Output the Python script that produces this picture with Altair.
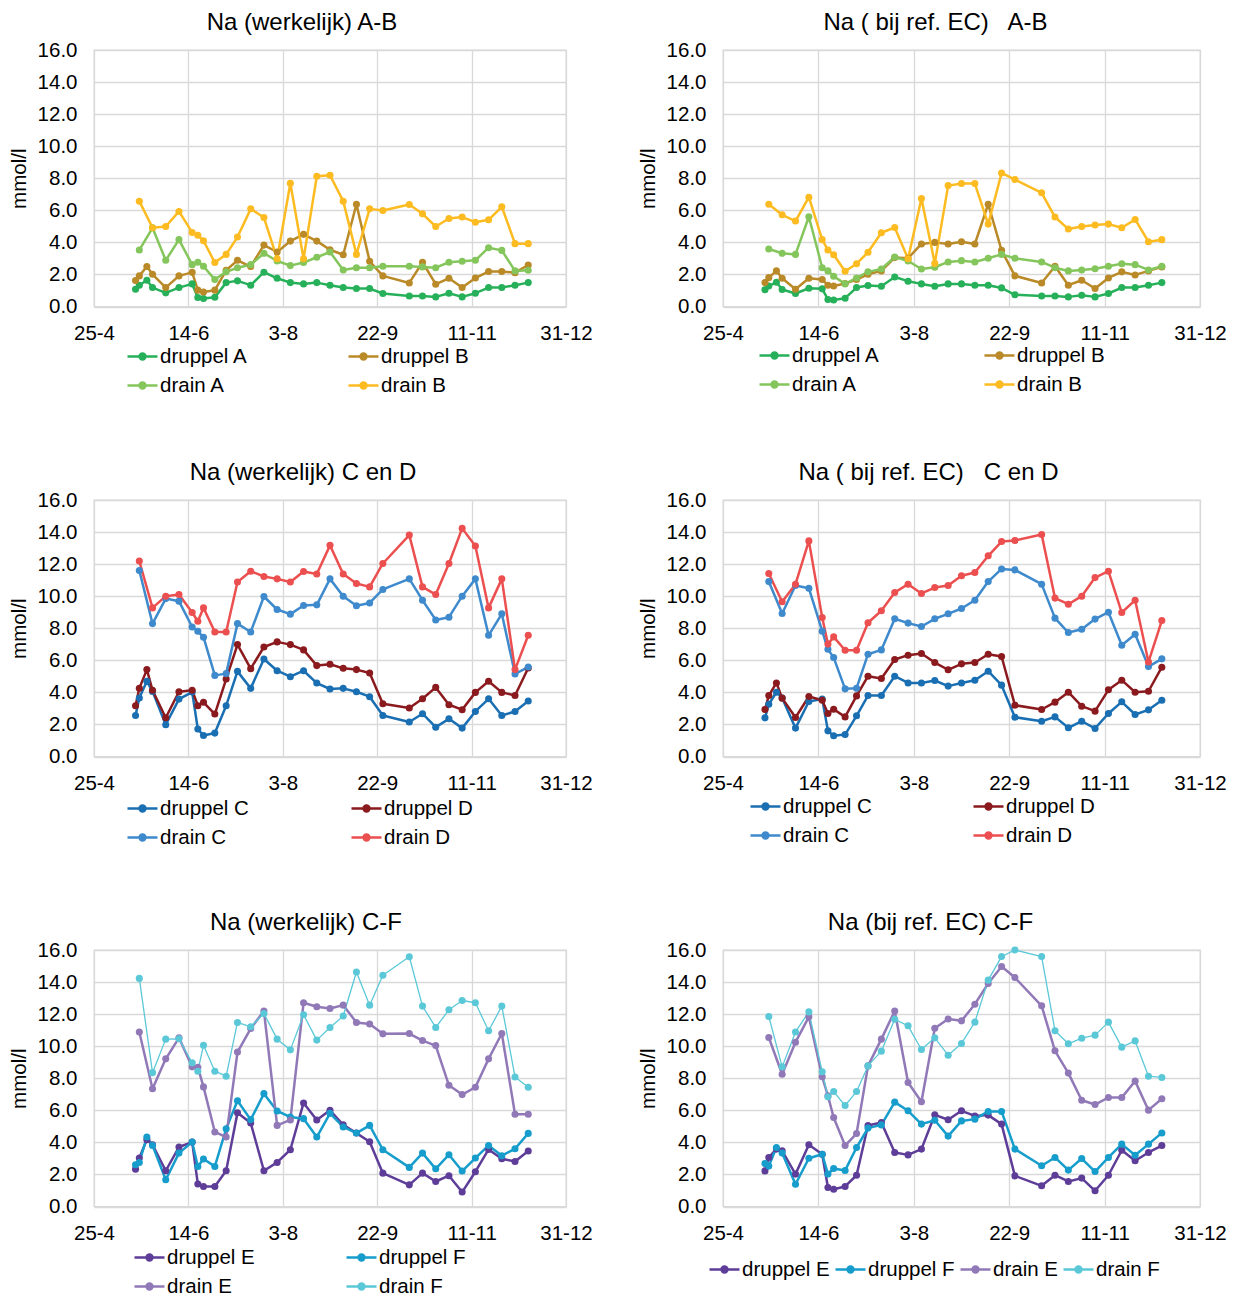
import altair as alt
import pandas as pd

FONT = "Liberation Sans"

# sampling dates (druppel = drip water, drain = drainage water)
DRUPPEL_DATES = ["2014-05-17", "2014-05-19", "2014-05-23", "2014-05-26", "2014-06-02", "2014-06-09",
                 "2014-06-16", "2014-06-19", "2014-06-22", "2014-06-28", "2014-07-04", "2014-07-10",
                 "2014-07-17", "2014-07-24", "2014-07-31", "2014-08-07", "2014-08-14", "2014-08-21",
                 "2014-08-28", "2014-09-04", "2014-09-11", "2014-09-18", "2014-09-25", "2014-10-09",
                 "2014-10-16", "2014-10-23", "2014-10-30", "2014-11-06", "2014-11-13", "2014-11-20",
                 "2014-11-27", "2014-12-04", "2014-12-11"]
DRAIN_DATES = ["2014-05-19", "2014-05-26", "2014-06-02", "2014-06-09",
               "2014-06-16", "2014-06-19", "2014-06-22", "2014-06-28", "2014-07-04", "2014-07-10",
               "2014-07-17", "2014-07-24", "2014-07-31", "2014-08-07", "2014-08-14", "2014-08-21",
               "2014-08-28", "2014-09-04", "2014-09-11", "2014-09-18", "2014-09-25", "2014-10-09",
               "2014-10-16", "2014-10-23", "2014-10-30", "2014-11-06", "2014-11-13", "2014-11-20",
               "2014-11-27", "2014-12-04", "2014-12-11"]

X_TICKS = ["2014-04-25", "2014-06-14", "2014-08-03", "2014-09-22", "2014-11-11", "2014-12-31"]
Y_TICKS = [0, 2, 4, 6, 8, 10, 12, 14, 16]

# Panel 1: Na (werkelijk) A-B
W_AB_DRUPPEL_A = [1.08, 1.33, 1.64, 1.18, 0.85, 1.18, 1.41, 0.56, 0.50, 0.58, 1.49, 1.60, 1.33, 2.14, 1.76, 1.49, 1.41,
                  1.49, 1.33, 1.18, 1.12, 1.12, 0.81, 0.66, 0.66, 0.60, 0.83, 0.60, 0.83, 1.18, 1.18, 1.33, 1.49]
W_AB_DRUPPEL_B = [1.62, 1.91, 2.49, 2.01, 1.18, 1.91, 2.13, 1.02, 0.91, 1.02, 2.26, 2.88, 2.49, 3.83, 3.40, 4.08, 4.50,
                  4.08, 3.54, 3.23, 6.38, 2.82, 1.91, 1.47, 2.76, 1.39, 1.76, 1.18, 1.78, 2.18, 2.18, 2.11, 2.59]
W_AB_DRAIN_A = [3.52, 4.91, 2.88, 4.17, 2.61, 2.76, 2.51, 1.68, 2.16, 2.42, 2.61, 3.32, 2.84, 2.55, 2.74, 3.07, 3.40,
                2.28, 2.42, 2.42, 2.51, 2.51, 2.47, 2.42, 2.76, 2.82, 2.88, 3.67, 3.50, 2.22, 2.26]
W_AB_DRAIN_B = [6.57, 4.91, 4.99, 5.93, 4.62, 4.44, 4.10, 2.74, 3.25, 4.33, 6.09, 5.55, 2.98, 7.69, 2.98, 8.12, 8.19,
                6.57, 3.25, 6.09, 5.99, 6.36, 5.78, 4.99, 5.49, 5.58, 5.26, 5.41, 6.22, 3.92, 3.92]

# Panel 2: Na (bij ref. EC) A-B
R_AB_DRUPPEL_A = [1.04, 1.28, 1.51, 1.06, 0.81, 1.14, 1.10, 0.44, 0.41, 0.52, 1.18, 1.31, 1.26, 1.84, 1.58, 1.41, 1.26,
                  1.41, 1.41, 1.33, 1.33, 1.16, 0.73, 0.66, 0.66, 0.60, 0.70, 0.60, 0.81, 1.18, 1.18, 1.33, 1.49]
R_AB_DRUPPEL_B = [1.49, 1.80, 2.22, 1.76, 1.08, 1.76, 1.68, 1.33, 1.28, 1.43, 1.68, 2.01, 2.22, 3.05, 3.01, 3.90, 4.00,
                  3.90, 4.04, 3.90, 6.38, 3.50, 1.91, 1.47, 2.51, 1.33, 1.64, 1.12, 1.78, 2.16, 1.97, 2.22, 2.47]
R_AB_DRAIN_A = [3.59, 3.32, 3.25, 5.60, 2.42, 2.22, 1.89, 1.41, 1.78, 2.16, 2.34, 3.09, 2.84, 2.34, 2.45, 2.78, 2.86,
                2.78, 3.01, 3.25, 3.01, 2.78, 2.42, 2.22, 2.28, 2.36, 2.51, 2.67, 2.61, 2.28, 2.51]
R_AB_DRAIN_B = [6.38, 5.72, 5.33, 6.82, 4.17, 3.52, 3.23, 2.20, 2.67, 3.38, 4.60, 4.93, 2.98, 6.74, 2.69, 7.54, 7.67,
                7.67, 5.14, 8.33, 7.92, 7.09, 5.58, 4.83, 4.99, 5.08, 5.14, 4.91, 5.43, 4.04, 4.17]

# Panel 3: Na (werkelijk) C en D
W_CD_DRUPPEL_C = [2.56, 3.65, 4.69, 4.06, 1.98, 3.58, 4.02, 1.71, 1.31, 1.46, 3.17, 5.31, 4.25, 6.08, 5.35, 4.98, 5.35,
                  4.58, 4.21, 4.25, 4.04, 3.73, 2.56, 2.15, 2.67, 1.83, 2.35, 1.77, 2.81, 3.60, 2.56, 2.81, 3.46]
W_CD_DRUPPEL_D = [3.17, 4.25, 5.42, 4.13, 2.42, 4.04, 4.13, 3.17, 3.38, 2.65, 4.83, 6.98, 5.48, 6.83, 7.15, 6.98, 6.65,
                  5.67, 5.75, 5.50, 5.42, 5.21, 3.29, 3.02, 3.60, 4.31, 3.23, 2.92, 4.00, 4.69, 4.00, 3.81, 5.52]
W_CD_DRAIN_C = [11.60, 8.29, 9.85, 9.69, 8.08, 7.81, 7.44, 5.06, 5.17, 8.29, 7.77, 9.98, 9.17, 8.88, 9.42, 9.46, 11.08,
                10.00, 9.40, 9.58, 10.42, 11.08, 9.75, 8.52, 8.69, 10.00, 11.08, 7.56, 8.90, 5.15, 5.58]
W_CD_DRAIN_D = [12.19, 9.27, 10.00, 10.10, 8.98, 8.44, 9.27, 7.77, 7.77, 10.88, 11.56, 11.23, 11.08, 10.88, 11.54, 11.38,
                13.17, 11.38, 10.79, 10.58, 12.04, 13.81, 10.58, 10.10, 12.04, 14.23, 13.13, 9.27, 11.08, 5.42, 7.56]

# Panel 4: Na (bij ref. EC) C en D
R_CD_DRUPPEL_C = [2.41, 3.26, 4.01, 3.65, 1.77, 3.43, 3.58, 1.60, 1.29, 1.37, 2.54, 3.80, 3.80, 5.01, 4.59, 4.59, 4.74,
                  4.39, 4.59, 4.76, 5.32, 4.45, 2.45, 2.20, 2.47, 1.79, 2.20, 1.75, 2.68, 3.41, 2.62, 2.91, 3.51]
R_CD_DRUPPEL_D = [2.93, 3.80, 4.59, 3.64, 2.43, 3.74, 3.51, 2.68, 2.95, 2.47, 3.78, 5.01, 4.86, 6.05, 6.32, 6.42, 5.86,
                  5.41, 5.78, 5.86, 6.38, 6.24, 3.20, 2.93, 3.39, 4.01, 3.14, 2.83, 4.16, 4.76, 4.01, 4.07, 5.57]
R_CD_DRAIN_C = [10.91, 8.92, 10.67, 10.50, 7.82, 6.69, 6.17, 4.22, 4.26, 6.38, 6.65, 8.59, 8.32, 8.11, 8.59, 8.90, 9.23,
                9.75, 10.91, 11.70, 11.64, 10.75, 8.63, 7.73, 7.94, 8.57, 9.00, 6.94, 7.63, 5.61, 6.09]
R_CD_DRAIN_D = [11.41, 9.65, 10.75, 13.45, 8.67, 7.01, 7.46, 6.63, 6.63, 8.34, 9.09, 10.23, 10.75, 10.17, 10.54, 10.67,
                11.27, 11.48, 12.52, 13.41, 13.47, 13.85, 9.88, 9.50, 10.00, 11.16, 11.56, 8.98, 9.75, 5.90, 8.48]

# Panel 5: Na (werkelijk) C-F
W_EF_DRUPPEL_E = [2.33, 3.02, 4.17, 3.85, 2.23, 3.71, 4.02, 1.40, 1.25, 1.25, 2.23, 5.85, 5.21, 2.23, 2.75, 3.54, 6.46,
                  5.40, 6.00, 5.10, 4.58, 4.04, 2.08, 1.35, 2.08, 1.56, 1.92, 0.90, 2.17, 3.56, 2.98, 2.81, 3.46]
W_EF_DRUPPEL_F = [2.60, 2.75, 4.33, 3.81, 1.67, 3.33, 4.02, 2.50, 2.96, 2.50, 4.85, 6.60, 5.42, 7.04, 5.96, 5.58, 5.48,
                  4.33, 5.81, 4.96, 4.58, 5.06, 3.54, 2.44, 3.33, 2.35, 3.23, 2.21, 3.02, 3.81, 3.17, 3.60, 4.56]
W_EF_DRAIN_E = [10.88, 7.35, 9.21, 10.52, 8.71, 8.69, 7.46, 4.65, 4.33, 9.63, 11.10, 12.19, 5.06, 5.40, 12.71, 12.46,
                12.35, 12.56, 11.48, 11.38, 10.77, 10.79, 10.35, 10.04, 7.56, 6.98, 7.44, 9.21, 10.79, 5.75, 5.75]
W_EF_DRAIN_F = [14.23, 8.35, 10.44, 10.46, 8.96, 8.44, 10.06, 8.44, 8.13, 11.48, 11.21, 12.04, 10.44, 9.77, 11.96, 10.38,
                11.17, 11.88, 14.63, 12.56, 14.42, 15.58, 12.50, 11.17, 12.27, 12.85, 12.71, 10.96, 12.50, 8.08, 7.44]

# Panel 6: Na (bij ref. EC) C-F
R_EF_DRUPPEL_E = [2.22, 3.06, 3.58, 3.47, 2.02, 3.85, 3.26, 1.19, 1.08, 1.25, 1.95, 5.05, 5.24, 3.37, 3.22, 3.58, 5.72,
                  5.41, 5.97, 5.65, 5.70, 5.14, 1.91, 1.29, 1.95, 1.56, 1.77, 0.98, 1.95, 3.51, 2.85, 3.37, 3.80]
R_EF_DRUPPEL_F = [2.68, 2.52, 3.68, 3.33, 1.39, 3.01, 3.26, 2.02, 2.37, 2.25, 3.68, 4.89, 5.09, 6.51, 5.97, 5.14, 5.38,
                  4.39, 5.34, 5.45, 5.93, 5.93, 3.58, 2.54, 3.06, 2.27, 2.99, 2.18, 3.06, 3.89, 3.20, 3.89, 4.59]
R_EF_DRAIN_E = [10.54, 8.25, 10.25, 11.83, 8.09, 6.90, 5.55, 3.80, 4.55, 8.77, 10.44, 12.20, 7.73, 6.53, 11.12, 11.70,
                11.58, 12.62, 13.91, 14.97, 14.28, 12.52, 9.71, 8.32, 6.63, 6.36, 6.80, 6.80, 7.82, 6.01, 6.72]
R_EF_DRAIN_F = [11.85, 8.71, 10.89, 12.14, 8.40, 6.84, 7.17, 6.30, 7.17, 8.77, 9.69, 11.68, 11.27, 9.79, 10.52, 9.44,
                10.17, 11.50, 14.12, 15.59, 16.0, 15.59, 10.96, 10.15, 10.50, 10.69, 11.50, 9.94, 10.33, 8.13, 8.05]

COLORS_AB = ["#27B05A", "#B98A27", "#84C65C", "#FDBB22"]
COLORS_CD = ["#1A6FB3", "#8B1A1E", "#3E8ACD", "#EC4F4F"]
COLORS_EF = ["#5E3D98", "#169DCB", "#9179B8", "#5BC8D8"]

SYMBOL = ("M-1,0L1,0M-0.2,0A0.2,0.2,0,1,0,0.2,0A0.2,0.2,0,1,0,-0.2,0"
          "M-0.08,0A0.08,0.08,0,1,0,0.08,0A0.08,0.08,0,1,0,-0.08,0")

W_LEFT, W_RIGHT, H = 472, 477, 256.5
NB = "\u00a0"


def dt(s):
    y, m, d = (int(p) for p in s.split("-"))
    return alt.DateTime(year=y, month=m, date=d, utc=True)


def panel(title, names, colors, series, width, lx, ly, ncols, colpad, grid_align, title_dx):
    recs = []
    for name, vals in zip(names, series):
        dates = DRUPPEL_DATES if name.startswith("druppel") else DRAIN_DATES
        for d, v in zip(dates, vals):
            recs.append({"datum": d, "Na": v, "reeks": name})
    df = pd.DataFrame(recs)

    x = alt.X("datum:T",
              scale=alt.Scale(type="utc", domain=[dt(X_TICKS[0]), dt(X_TICKS[-1])], nice=False),
              axis=alt.Axis(values=[dt(t) for t in X_TICKS],
                            labelExpr="utcFormat(datum.value, '%-d-%-m')",
                            title=None, labelFont=FONT, labelFontSize=20.5, labelColor="black",
                            labelPadding=17, labelFlush=False, labelOverlap=False,
                            ticks=False, domain=False, grid=True, gridColor="#D9D9D9", gridWidth=1.3))
    y = alt.Y("Na:Q",
              scale=alt.Scale(domain=[0, 16], nice=False),
              axis=alt.Axis(values=Y_TICKS, format=".1f", title="mmol/l", titleFont=FONT,
                            titleFontSize=20.5, titleFontWeight="normal", titleColor="black",
                            titlePadding=9, labelFont=FONT, labelFontSize=20.5, labelColor="black",
                            labelPadding=17, ticks=False, domain=False, grid=True,
                            gridColor="#D9D9D9", gridWidth=1.3, minExtent=56, maxExtent=56))
    color = alt.Color("reeks:N", sort=names,
                      scale=alt.Scale(domain=names, range=colors),
                      legend=alt.Legend(orient="none", legendX=lx, legendY=ly, columns=ncols,
                                        direction="horizontal",
                                        title=None, symbolType=SYMBOL, symbolSize=900,
                                        symbolStrokeWidth=2.4, labelFont=FONT, labelFontSize=20.5,
                                        labelColor="black", labelOffset=1, columnPadding=colpad,
                                        rowPadding=2, gridAlign=grid_align, padding=0))
    sw = alt.condition(alt.datum.reeks == "drain F", alt.value(1.3), alt.value(2.5))
    line = alt.Chart().mark_line(strokeJoin="round").encode(x=x, y=y, color=color, strokeWidth=sw)
    pts = alt.Chart().mark_circle(size=50, opacity=1).encode(x=x, y=y, color=color)
    return alt.layer(line, pts, data=df).properties(
        width=width, height=H,
        title=alt.TitleParams(text=title, font=FONT, fontSize=24, fontWeight="normal", color="black",
                              anchor="middle", baseline="alphabetic", offset=-14, dx=title_dx))


p1 = panel("Na (werkelijk) A-B", ["druppel A", "druppel B", "drain A", "drain B"], COLORS_AB,
           [W_AB_DRUPPEL_A, W_AB_DRUPPEL_B, W_AB_DRAIN_A, W_AB_DRAIN_B],
           W_LEFT, 32, 290, 2, 95, "each", -28)
p2 = panel("Na ( bij ref. EC)" + NB + NB + " A-B", ["druppel A", "druppel B", "drain A", "drain B"], COLORS_AB,
           [R_AB_DRUPPEL_A, R_AB_DRUPPEL_B, R_AB_DRAIN_A, R_AB_DRAIN_B],
           W_RIGHT, 35, 289, 2, 99, "each", -26)
p3 = panel("Na (werkelijk) C en D", ["druppel C", "druppel D", "drain C", "drain D"], COLORS_CD,
           [W_CD_DRUPPEL_C, W_CD_DRUPPEL_D, W_CD_DRAIN_C, W_CD_DRAIN_D],
           W_LEFT, 32, 292, 2, 97, "each", -27)
p4 = panel("Na ( bij ref. EC)" + NB + NB + " C en D", ["druppel C", "druppel D", "drain C", "drain D"],
           COLORS_CD, [R_CD_DRUPPEL_C, R_CD_DRUPPEL_D, R_CD_DRAIN_C, R_CD_DRAIN_D],
           W_RIGHT, 26, 290, 2, 96, "each", -33)
p5 = panel("Na (werkelijk) C-F", ["druppel E", "druppel F", "drain E", "drain F"], COLORS_EF,
           [W_EF_DRUPPEL_E, W_EF_DRUPPEL_F, W_EF_DRAIN_E, W_EF_DRAIN_F],
           W_LEFT, 39, 291, 2, 86, "each", -24)
p6 = panel("Na (bij ref. EC) C-F", ["druppel E", "druppel F", "drain E", "drain F"], COLORS_EF,
           [R_EF_DRUPPEL_E, R_EF_DRUPPEL_F, R_EF_DRAIN_E, R_EF_DRAIN_F],
           W_RIGHT, -15, 303, 4, 0, "none", -31)

chart = alt.concat(p1, p2, p3, p4, p5, p6, columns=2, bounds="flush",
                   spacing={"row": 193, "column": 157}).resolve_scale(
    color="independent").resolve_legend(color="independent").properties(
    padding={"top": 2, "bottom": 0, "left": 0, "right": 0}).configure_view(
    stroke="#D9D9D9", strokeWidth=1.3)

chart.save("out.html", embed_options={"renderer": "svg", "actions": False})
